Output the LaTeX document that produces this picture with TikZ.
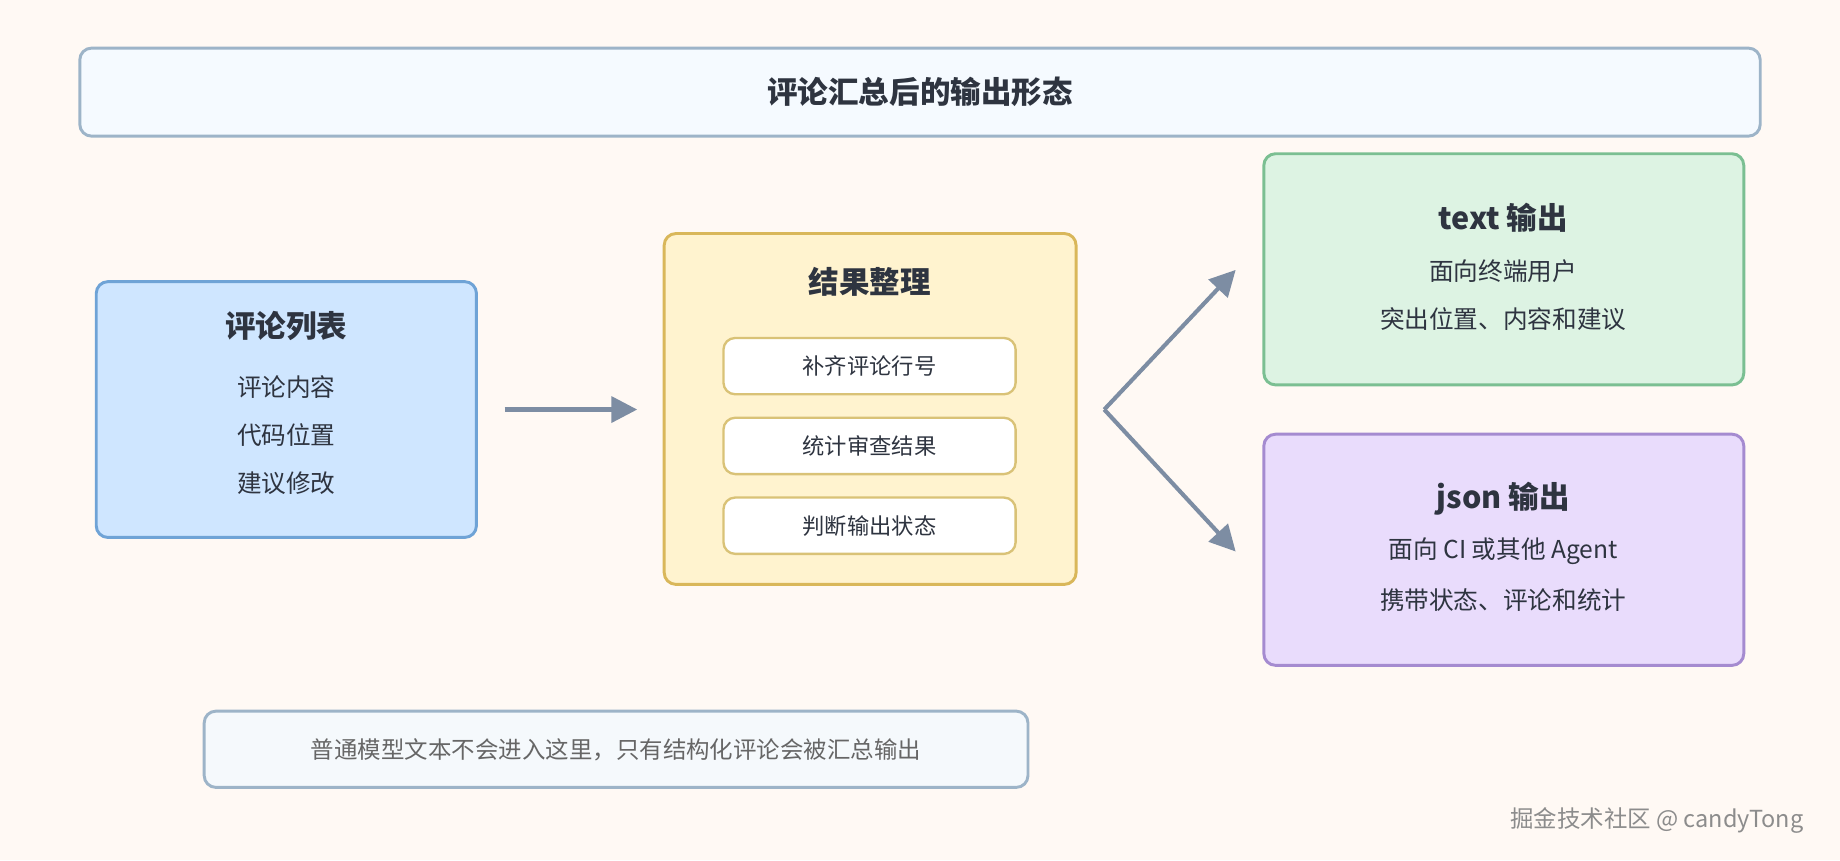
\documentclass[tikz,border=0pt]{standalone}
\usepackage{fontspec}
\setmainfont{Noto Sans CJK SC}
\usetikzlibrary{arrows.meta}
\definecolor{bg}{HTML}{FFF9F4}
\definecolor{tealine}{HTML}{9DB4C8}
\definecolor{txt}{HTML}{2E3440}
\definecolor{arr}{HTML}{7D8DA3}
\definecolor{bluel}{HTML}{6FA3D6}
\definecolor{bluef}{HTML}{CFE6FF}
\definecolor{yell}{HTML}{D9B75A}
\definecolor{yelf}{HTML}{FFF3CF}
\definecolor{subl}{HTML}{D9C277}
\definecolor{grnl}{HTML}{7BBF92}
\definecolor{grnf}{HTML}{DDF3E3}
\definecolor{purl}{HTML}{A58BD0}
\definecolor{purf}{HTML}{E9DCFC}
\definecolor{notef}{HTML}{F5F9FC}
\definecolor{titf}{HTML}{F5FAFF}
\tikzset{
 box/.style={draw, line width=2.5pt, rounded corners=10pt},
 tt/.style={font=\bfseries\fontsize{26}{30}\selectfont, text=txt},
 ln/.style={font=\fontsize{21}{25}\selectfont, text=txt},
 sub/.style={box, draw=subl, fill=white, line width=2pt, minimum width=249pt, minimum height=48pt, font=\fontsize{19}{23}\selectfont, text=txt},
 ar/.style={draw=arr, line width=3.5pt, -{Triangle[length=22pt,width=22pt]}}
}
\begin{document}
\begin{tikzpicture}[x=1pt,y=-1pt]
\fill[bg] (0,0) rectangle (1568,733);
\useasboundingbox (0,0) rectangle (1568,733);
\draw[box, draw=tealine, fill=titf] (68,41) rectangle (1500,116);
\node[tt] (title) at (784,78) {评论汇总后的输出形态};
% left
\draw[box, draw=bluel, fill=bluef] (82,240) rectangle (406,458);
\node[tt] (lt) at (244,278) {评论列表};
\node[ln] (l1) at (244,330) {评论内容};
\node[ln] (l2) at (244,371) {代码位置};
\node[ln] (l3) at (244,412) {建议修改};
% middle
\draw[box, draw=yell, fill=yelf] (566,199) rectangle (917,498);
\node[tt] (mt) at (741,240) {结果整理};
\node[sub] (m1) at (741,312) {补齐评论行号};
\node[sub] (m2) at (741,380) {统计审查结果};
\node[sub] (m3) at (741,448) {判断输出状态};
% arrows
\coordinate (a1) at (430,349); \coordinate (a2) at (543,349);
\draw[ar] (a1) -- (a2);
\coordinate (s) at (941,349); \coordinate (t1) at (1053,230); \coordinate (t2) at (1053,470);
\draw[ar] (s) -- (t1);
\draw[ar] (s) -- (t2);
% green
\draw[box, draw=grnl, fill=grnf] (1077,131) rectangle (1486,328);
\node[tt] (gt) at (1281,186) {text 输出};
\node[ln] (g1) at (1281,231) {面向终端用户};
\node[ln] (g2) at (1281,272) {突出位置、内容和建议};
% purple
\draw[box, draw=purl, fill=purf] (1077,370) rectangle (1486,567);
\node[tt] (pt) at (1281,425) {json 输出};
\node[ln] (p1) at (1281,470) {面向 CI 或其他 Agent};
\node[ln] (p2) at (1281,511) {携带状态、评论和统计};
% note
\draw[box, draw=tealine, fill=notef] (174,606) rectangle (876,671);
\node[font=\fontsize{20}{24}\selectfont, text=black!60] (note) at (525,639) {普通模型文本不会进入这里，只有结构化评论会被汇总输出};
\node[font=\fontsize{20}{24}\selectfont, text=black!45] (wm) at (1412,699) {掘金技术社区 @ candyTong};
\end{tikzpicture}
\end{document}
